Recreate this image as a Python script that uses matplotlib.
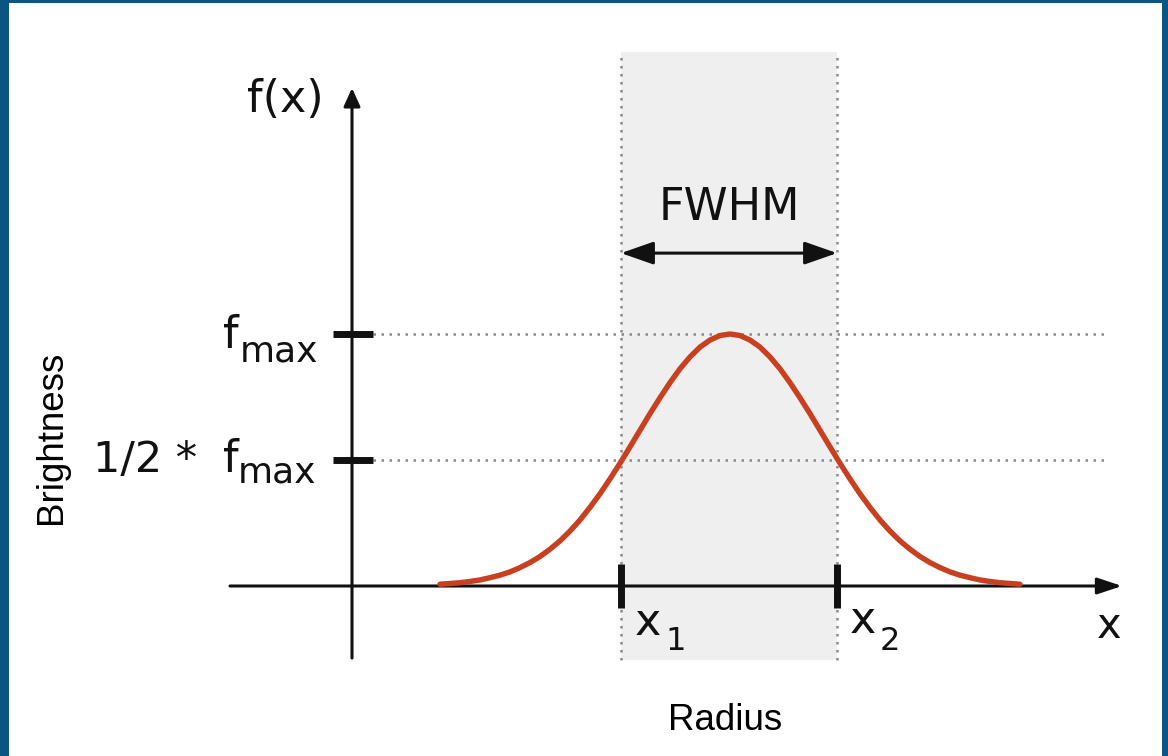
import matplotlib
matplotlib.use('Agg')
import matplotlib.pyplot as plt
from matplotlib.patches import Rectangle

# curve (radius units, brightness as fraction of f_max)
radius = [0.88, 0.98, 1.08, 1.18, 1.28, 1.38, 1.48, 1.58, 1.68, 1.78,
          1.88, 1.98, 2.08, 2.18, 2.28, 2.38, 2.48, 2.58, 2.68, 2.78,
          2.88, 2.98, 3.08, 3.18, 3.28, 3.38, 3.48, 3.58, 3.68, 3.78,
          3.88, 3.98, 4.08, 4.18, 4.28, 4.38, 4.48, 4.58, 4.68, 4.78,
          4.88, 4.98, 5.08, 5.18, 5.28, 5.38, 5.48, 5.58, 5.68, 5.78,
          5.88, 5.98, 6.08, 6.18, 6.28, 6.38, 6.48, 6.58, 6.68]
brightness = [0.007, 0.010, 0.013, 0.018, 0.024, 0.033, 0.043, 0.056, 0.073, 0.093,
              0.117, 0.146, 0.179, 0.218, 0.262, 0.312, 0.366, 0.425, 0.487, 0.552,
              0.618, 0.684, 0.747, 0.807, 0.862, 0.909, 0.948, 0.976, 0.994, 1.0,
              0.994, 0.976, 0.948, 0.909, 0.862, 0.807, 0.747, 0.684, 0.618, 0.552,
              0.487, 0.425, 0.366, 0.312, 0.262, 0.218, 0.179, 0.146, 0.117, 0.093,
              0.073, 0.056, 0.043, 0.033, 0.024, 0.018, 0.013, 0.010, 0.007]
f_max = 1.0
f_half = 0.5
x_1 = 2.69
x_2 = 4.85

W, H = 1168, 756
fig = plt.figure(figsize=(W / 100, H / 100), dpi=100)
fig.patch.set_facecolor('#0b5583')
fig.add_artist(Rectangle((9 / W, 0), (1162 - 9) / W, (H - 3) / H,
                         transform=fig.transFigure, facecolor='white',
                         edgecolor='none', zorder=-1))

ax = fig.add_axes([0, 0, 1, 1])
ax.set_facecolor('none')
# 1 unit = 100 px across, f_max = 252 px up, origin at the axis crossing
ax.set_xlim(-3.52, 8.16)
ax.set_ylim(-170 / 252, 586 / 252)
ax.axis('off')

ink = '#111111'
grey = '#8a8a8a'
shade_top, shade_bot = 2.119, -0.294

# FWHM band
ax.axvspan(x_1, x_2, ymin=(shade_bot + 170 / 252) / 3, ymax=(shade_top + 170 / 252) / 3,
           color='#efefef', zorder=0, lw=0)
for xv in (x_1, x_2):
    ax.plot([xv, xv], [shade_bot, shade_top], ls=(0, (1, 2.2)), color=grey, lw=1.8, zorder=1)
for yv in (f_max, f_half):
    ax.plot([0.21, 7.53], [yv, yv], ls=(0, (1, 2.2)), color=grey, lw=1.8, zorder=1)

# axes with arrows
ax.annotate('', xy=(0, 1.976), xytext=(0, -0.286),
            arrowprops=dict(arrowstyle='-|>,head_length=0.55,head_width=0.25',
                            mutation_scale=20, lw=2.2, color=ink,
                            shrinkA=0, shrinkB=0), zorder=3)
ax.annotate('', xy=(7.70, 0), xytext=(-1.22, 0),
            arrowprops=dict(arrowstyle='-|>,head_length=0.75,head_width=0.25',
                            mutation_scale=20, lw=2.2, color=ink,
                            shrinkA=0, shrinkB=0), zorder=3)

# tick marks
for yv in (f_max, f_half):
    ax.plot([-0.19, 0.21], [yv, yv], color=ink, lw=5, solid_capstyle='butt', zorder=4)
for xv in (x_1, x_2):
    ax.plot([xv, xv], [-0.087, 0.087], color=ink, lw=5, solid_capstyle='butt', zorder=4)

# the curve
ax.plot(radius, brightness, color='#c94020', lw=3.9, solid_capstyle='round',
        solid_joinstyle='round', zorder=5)

# FWHM double arrow
ax.annotate('', xy=(x_1, 1.321), xytext=(x_2, 1.321),
            arrowprops=dict(arrowstyle='<|-|>,head_length=1.0,head_width=0.35',
                            mutation_scale=20, lw=2.2, color=ink,
                            shrinkA=0, shrinkB=0), zorder=4)
ax.text((x_1 + x_2) / 2, 1.452, 'FWHM', fontsize=32, ha='center', va='baseline', color=ink)

# labels on the diagram
ax.text(-1.05, 1.881, 'f(x)', fontsize=32, ha='left', va='baseline', color=ink)
ax.text(-1.29, 0.944, 'f', fontsize=32, ha='left', va='baseline', color=ink)
ax.text(-0.34, 0.889, 'max', fontsize=26, ha='right', va='baseline', color=ink)
ax.text(-2.59, 0.452, '1/2 *', fontsize=31, ha='left', va='baseline', color=ink)
ax.text(-1.29, 0.452, 'f', fontsize=32, ha='left', va='baseline', color=ink)
ax.text(-0.36, 0.409, 'max', fontsize=26, ha='right', va='baseline', color=ink)
ax.text(2.83, -0.194, 'x', fontsize=32, ha='left', va='baseline', color=ink)
ax.text(3.13, -0.254, '1', fontsize=23, ha='left', va='baseline', color=ink)
ax.text(4.98, -0.187, 'x', fontsize=32, ha='left', va='baseline', color=ink)
ax.text(5.28, -0.254, '2', fontsize=23, ha='left', va='baseline', color=ink)
ax.text(7.45, -0.206, 'x', fontsize=30, ha='left', va='baseline', color=ink)

# outer axis titles
ax.text(-3.0, 0.591, 'Brightness', fontsize=26.5, family='Liberation Sans',
        rotation=90, ha='center', va='center', color='black')
ax.text(3.73, -0.532, 'Radius', fontsize=26.5, family='Liberation Sans',
        ha='center', va='center', color='black')

fig.savefig('out.png', dpi=100, facecolor=fig.get_facecolor())
